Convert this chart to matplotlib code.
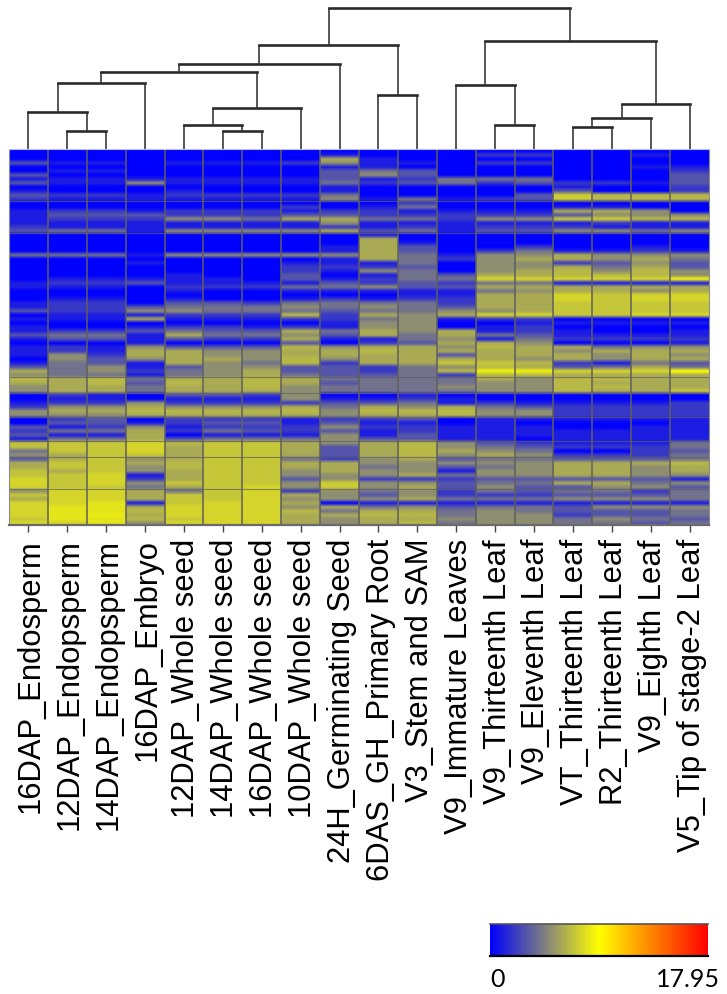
import numpy as np
import matplotlib
matplotlib.use('Agg')
import matplotlib.pyplot as plt
from matplotlib.cm import ScalarMappable
from matplotlib.colors import LinearSegmentedColormap, Normalize

samples = ['16DAP_Endosperm', '12DAP_Endopsperm', '14DAP_Endopsperm', '16DAP_Embryo',
           '12DAP_Whole seed', '14DAP_Whole seed', '16DAP_Whole seed', '10DAP_Whole seed',
           '24H_Germinating Seed', '6DAS_GH_Primary Root', 'V3_Stem and SAM',
           'V9_Immature Leaves', 'V9_Thirteenth Leaf', 'V9_Eleventh Leaf',
           'VT_Thirteenth Leaf', 'R2_Thirteenth Leaf', 'V9_Eighth Leaf',
           'V5_Tip of stage-2 Leaf']

# values, one row per band, top to bottom
expression = [
    [0,0,0,0,0,0,0,0,0,0,0,0,0,0,0,0,0,0],
    [0,0,0,0,0,0,0,0,1,0,0,0,2,2,0,0,1,0],
    [0,0,0,0,0,0,0,0,6,1,0,0,0,0,0,0,0,0],
    [3,1,1,0,1,1,1,2,5,1,1,0,2,2,0,0,0,0],
    [0,0,0,0,0,0,0,0,1,1,0,0,0,0,0,0,1,1],
    [0,1,1,0,0,0,0,0,3,4,3,0,0,0,0,0,0,2],
    [3,0,0,0,0,0,0,0,3,5,3,0,0,0,0,0,0,3],
    [1,1,1,1,1,1,1,1,3,1,2,4,4,4,0,0,0,3],
    [3,1,1,5,1,1,1,1,4,2,3,4,2,3,2,2,1,3],
    [0,0,0,0,0,0,0,0,1,0,0,0,0,0,1,0,0,2],
    [1,0,0,0,1,0,0,0,1,0,0,0,0,0,3,0,0,2],
    [3,2,2,1,2,2,2,2,4,0,0,0,0,3,7.2,6.5,6.5,6.5],
    [2,1,1,1,1,1,1,1,5,1,4,1,2,3,7.2,6.5,6.5,6.5],
    [0,0,0,0,0,0,0,0,0,0,2,0,0,0,0,0,0,0],
    [0,0,0,0,0,0,0,2,0,1,4,0,0,0,1,1,0,0],
    [1,2,2,1,2,2,2,1,2,2,1,1,1,1,6,6,5,0],
    [1,3,3,3,2,2,2,3,3,2,2,2,2,2,3,5,5,5],
    [1,2,2,2,5,5,4,6,6,4,4,2,5,5,7.2,7.2,6.5,6.5],
    [1,1,1,1,1,1,1,1,5,1,1,1,1,1,1,2,1,1],
    [2,1,1,1,1,1,1,1,2,1,2,1,2,2,2,1,1,1],
    [3,4,4,1,5,5,5,5,6,3,4,1,3,3,5,5,4,5],
    [0,0,0,0,0,0,0,0,0,1,0,0,0,0,0,0,0,0],
    [0,0,0,0,0,0,0,0,0,6,0,0,0,0,0,0,0,0],
    [0,0,0,0,0,0,0,0,0,6,1,0,0,0,0,0,0,0],
    [0,0,0,0,0,0,0,0,1,6,3,0,0,2,0,0,1,0],
    [0,0,0,0,0,0,0,0,1,6,3,0,2,4,1,1,2,1],
    [4,4,4,1,5,5,5,5,5,6,4,1,5,5,6,5,5,5],
    [0,0,0,0,0,0,0,0,1,6,4,2,5,6,6,5,6,4],
    [0,0,0,1,0,0,0,1,1,1,4,0,5,5,2,3,5,3],
    [0,0,0,0,0,0,0,2,2,2,3,0,5,5,6,4,6,3],
    [0,0,0,0,0,0,0,2,1,5,4,0,5,6,6.5,5,6.5,5],
    [0,0,0,0,1,0,0,3,0,1,4,3,6,6,6.5,6.5,6.5,5],
    [0,1,1,1,1,1,0,3,1,2,4,4,7.5,7.5,7.5,7.5,7.5,8.6],
    [1,2,2,3,1,1,1,1,3,2,3,2,4,4,1,1,1,1],
    [1,1,1,0,2,2,2,4,4,5,3,3,6,6,6,6,6,6],
    [0,0,0,0,1,0,0,1,1,1,1,1,4,5,6,6,5,6],
    [0,0,0,0,0,0,0,0,0,0,1,1,6,6,7.5,7,7.5,7.5],
    [0,1,1,0,1,0,0,1,2,1,2,2,6,6,7.5,7,7.5,7.5],
    [1,2,2,0,3,3,2,4,4,4,4,2,6,6,7,7,7,7],
    [1,2,2,3,4,4,4,5,4,5,4,3,6,6,7,7,7,7],
    [3,2,2,5,5,4,4,4,3,4,4,5,5,6,7,7,7,7],
    [0,1,1,1,2,2,2,6.5,2,6,5,6,7.5,7.5,7,7,7.5,7.5],
    [1,1,1,6,1,1,1,2,2,4,5,1,2,2,0,0,0,0],
    [0,0,0,0,0,0,0,0,1,5,5,0,0,1,1,1,1,1],
    [1,0,0,1,2,2,1,2,1,5,5,0,1,2,0,0,0,0],
    [1,2,2,3,4,3,3,6,4,6,5,6,1,2,1,0,0,1],
    [3,4,4,1,6,4,4,5,3,6,4,6,4,3,1,1,1,1],
    [1,3,3,1,3,2,2,6,1,1,4,5,1,4,2,2,2,2],
    [0,0,0,1,0,0,0,3,0,2,3,6,6,5,0,0,0,1],
    [1,2,1,5,3,3,3,6.5,5,6,6,5,6.5,6,6,4,5,5],
    [1,2,1,6,6,5,5,6,6,6.5,6,6,6,6,5,6,6,6],
    [1,5,2,6,6,5,5,6,6,6,6,3,6,6,6,5,6,5],
    [0,5,3,5,6,6,5,6.5,5,6,6,6,6,5,6,5,6,6],
    [1,4,3,1,6,5,4,6.5,2,6,6,7,7,6.5,2,1,4,3],
    [3,4,5,1,3,5,5,3,3,2,4,5,6.5,6,3,4,6,4],
    [6,4,5,2,4,5,6,3,3,2,4,6.5,8.5,8.5,7.5,7.5,7.5,9],
    [5,4,4,1,4,5,6,4,3,3,4,2,6.5,6.5,6,6,6,6],
    [6.5,6,6.5,4,6,6,6.5,6,4,4,4,4,6,5,6.5,6.5,6,6],
    [6,6,6.5,3,6.5,6,6.5,6,3,4,4,4,5,5,6.5,6,6,6],
    [5,6,6,4,6,6,6.5,5,4,4,4,5,5,5,6.5,6.5,6,6],
    [5,6,6,4,6,6,6,5,4,4,4,4,5,5,6.5,6,6,7],
    [0,2,1,0,3,3,2,5,0,0,1,0,0,0,0,0,0,0],
    [0,1,1,0,1,1,1,5,1,1,2,1,0,0,0,0,0,0],
    [1,2,2,5,2,2,2,2,3,3,4,1,2,1,1,1,1,2],
    [2,5,5,6,5,5,5,6,4,6,5,6,4,3,2,2,2,2],
    [5,6,6,6.5,6.5,6.5,6.5,6.5,5,6.5,6.5,6.5,5,5,2,2,2,2],
    [5,5,5,6,6,6,6,6,5,6,6,6.5,5,5,2,2,2,2],
    [0,2,3,0,2,2,2,1,2,2,3,0,1,1,1,1,1,1],
    [0,3,3,1,2,3,3,1,3,1,1,0,1,0,0,0,0,1],
    [3,1,2,5,1,2,2,2,5,2,2,1,1,1,0,0,1,1],
    [2,4,4,6,2,4,3,2,3,1,2,1,1,1,1,1,1,1],
    [3,1,1,6,0,1,1,1,5,1,3,1,1,1,1,1,1,1],
    [1,4,4,6,3,4,4,4,5,3,3,1,1,0,1,1,1,1],
    [6.8,7,7,7.5,6.5,7,7,6,5,6,6.5,5,3,2,1,1,1,4],
    [6.8,7,7,7.5,6,7,7,6,3,6,6.5,5,4,3,2,2,2,4],
    [4,7,7,7.5,6,7,7,6,3,6,6.5,6,5,4,0,0,2,3],
    [5,6,7,7,6,7,7,6,3,6,6.5,5,6,5,2,2,2,4],
    [3,6,7,5,6,7,7,4,2,5,6,3,4,4,3,3,3,4],
    [6,7,7,6,6.5,7,7,6,6,5,5,5,5,5,6,6,6,6.5],
    [6,7,7,5,6.5,7,7,6,6,4,5,3,4,5,6,6,5,6],
    [6.8,6,7,5,6,7,7,5,6,5,5,1,5,5,6,6,5,6],
    [6.8,7,7.5,1,6,7,7,5,5,5,6,4,5,5,6,6,5,5],
    [7.5,7,7.5,2,6,7,7,3,5,2,2,2,3,3,3,3,3,1],
    [7.5,7,7.5,5,7,7,7,5,7.2,5,5,3,4,4,6,6,4,5],
    [7.5,7,7,4,6,7,7.5,5,7.2,5,6,3,5,3,3,5,5,3],
    [5,7.5,7.5,6,4,7,7.5,2,5,4,5,2,4,3,4,4,2,4],
    [7,7.5,7.5,6,7,7,7.5,6,5,3,5,2,2,2,3,3,3,4],
    [6,7.5,7.5,6,7,7,7.5,5,5,5,6,4,4,4,5,5,5,4],
    [7.5,7.5,8,1,7,7.5,7.5,6,0,1,1,1,1,1,1,1,1,1],
    [7.5,8,8,6,7.5,7.5,7.5,5,6,4,5,3,4,4,3,5,5,5],
    [7.5,8,8,6.5,7.5,7.5,7.5,6.5,4,6,6,4,5,4,3,3,3,4],
    [7.5,8,8.3,6,7.5,7.5,7.5,6,6,6.5,6.5,4,5,5,2,3,3,4],
    [7,8,8,6.5,7,7.5,7.5,6,5,6,6,5,5,5,4,5,4,3],
    [7.5,7.5,8,5,7.5,7.5,7.5,6,5,6,6.5,4,5,5,4,4,3,4],
]

# rows where the darker cluster lines sit
row_breaks = [13, 21, 57, 61, 67, 73, 77, 85]

# merges of the tree: left node, right node, height above the heatmap
# nodes 0-17 are the samples, a merge gets the next number
merges = [
    (1, 2, 18), (0, 18, 37), (19, 3, 66),
    (5, 6, 18), (4, 21, 24), (22, 7, 41),
    (20, 23, 77), (24, 8, 85),
    (9, 10, 54), (25, 26, 104),
    (12, 13, 24), (11, 28, 64),
    (14, 15, 22), (30, 16, 31), (31, 17, 45),
    (29, 32, 108), (27, 33, 141),
]

vmin, vmax = 0, 17.95
W, H = 727, 995


def px_axes(left, top, right, bottom):
    return fig.add_axes([left / W, 1 - bottom / H, (right - left) / W, (bottom - top) / H])


cmap = LinearSegmentedColormap.from_list('expr', [(0, '#0000ff'), (0.25, '#808080'),
                                                  (0.5, '#ffff00'), (1, '#ff0000')])
norm = Normalize(vmin, vmax)

fig = plt.figure(figsize=(W / 100, H / 100), dpi=100)

# heatmap, one image per column so the bands blur only along the column
ax = px_axes(9, 150, 709, 526)
data = np.array(expression, dtype=float)
nrows, ncols = data.shape
for j in range(ncols):
    ax.imshow(data[:, [j]], aspect='auto', cmap=cmap, norm=norm, interpolation='bilinear',
              extent=[j, j + 1, nrows, 0])
ax.vlines(np.arange(1, ncols), 0, nrows, color='#5f5f5f', lw=1.1)
ax.hlines(row_breaks, 0, ncols, color='#5f5f5f', lw=0.8, alpha=0.7)
ax.set_xlim(0, ncols)
ax.set_ylim(nrows, 0)
ax.set_yticks([])
ax.set_xticks(np.arange(ncols) + 0.5)
ax.set_xticklabels([])
ax.tick_params(axis='x', length=5, width=1, color='#444444')
for side in ['left', 'right']:
    ax.spines[side].set_color('#8c8c8c')
ax.spines['top'].set_color('#b9bfe8')
ax.spines['bottom'].set_color('#6a6a6a')
ax.spines['bottom'].set_linewidth(1.6)

for i, name in enumerate(samples):
    ax.annotate(name, xy=(i + 0.5, 0), xycoords=('data', 'axes fraction'),
                xytext=(10.5, -13), textcoords='offset pixels', rotation=90,
                rotation_mode='anchor', ha='right', va='baseline', fontsize=22.3,
                family='Liberation Sans', color='black')

# dendrogram
dax = px_axes(9, 0, 709, 150)
dax.set_xlim(0, ncols)
dax.set_ylim(0, 150)
dax.axis('off')
pos = {i: (i + 0.5, 0) for i in range(ncols)}
for k, (a, b, h) in enumerate(merges):
    xa, ya = pos[a]
    xb, yb = pos[b]
    dax.plot([xa, xa], [ya, h], color='#3a3a3a', lw=1.2, solid_capstyle='butt')
    dax.plot([xb, xb], [yb, h], color='#3a3a3a', lw=1.2, solid_capstyle='butt')
    dax.plot([xa, xb], [h, h], color='#2a2a2a', lw=1.9, solid_capstyle='projecting')
    pos[ncols + k] = ((xa + xb) / 2, h)

# colour key
cax = px_axes(490, 925, 708, 957)
cb = fig.colorbar(ScalarMappable(norm=norm, cmap=cmap), cax=cax, orientation='horizontal')
cb.set_ticks([])
cb.outline.set_visible(False)
cax.spines['top'].set_visible(True)
cax.spines['bottom'].set_visible(True)
cax.spines['top'].set_color('#555555')
cax.spines['bottom'].set_color('black')
cax.spines['top'].set_linewidth(1.2)
cax.spines['bottom'].set_linewidth(1.6)
fig.text(490 / W, 1 - 987 / H, '0', family='Lato', fontsize=18, color='black', ha='left', va='baseline')
fig.text(720 / W, 1 - 987 / H, '17.95', family='Lato', fontsize=18, color='black', ha='right', va='baseline')

fig.savefig('out.png', dpi=100)
